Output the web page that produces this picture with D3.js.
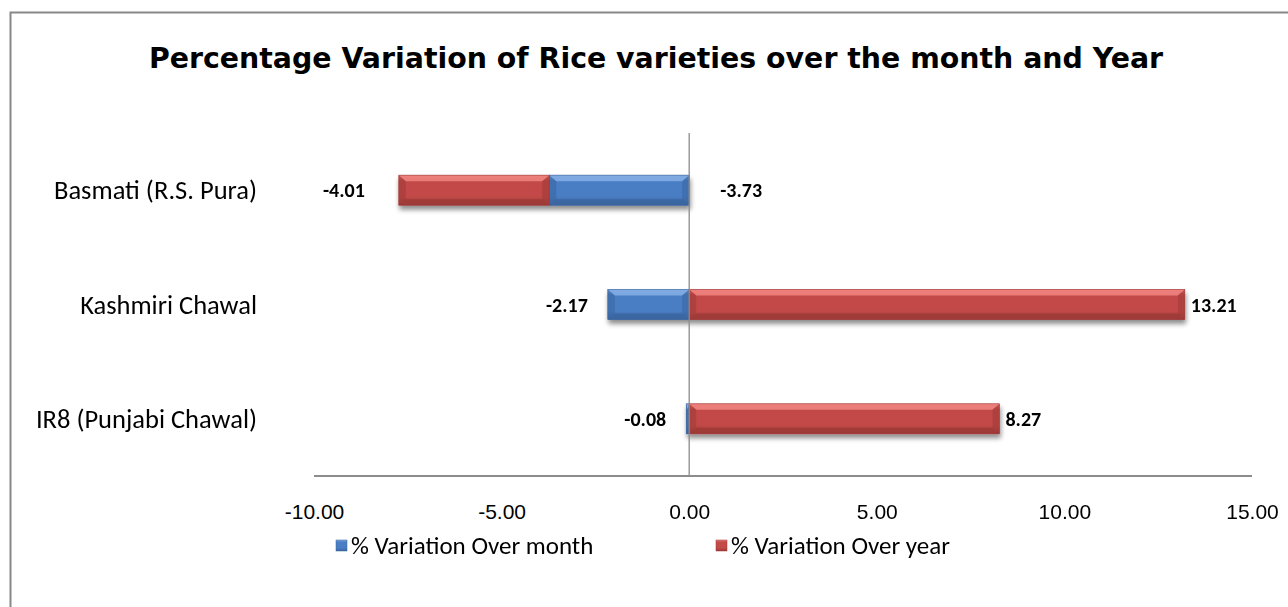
<!DOCTYPE html>
<html><head><meta charset="utf-8">
<script src="https://cdn.jsdelivr.net/npm/d3@7"></script>
<style>
html,body{margin:0;padding:0;background:#fff;}
</style></head>
<body>
<svg id="chart" width="1288" height="607"></svg>
<script>
const categories = ["Basmati (R.S. Pura)", "Kashmiri Chawal", "IR8 (Punjabi Chawal)"];
const monthValues = [-3.73, -2.17, -0.08];
const yearValues = [-4.01, 13.21, 8.27];
const seriesNames = ["% Variation Over month", "% Variation Over year"];
const tickValues = [-10, -5, 0, 5, 10, 15];
const title = "Percentage Variation of Rice varieties over the month and Year";

const svg = d3.select("#chart");
const W = 1288, H = 607;
const catFont = "Carlito, Lato, 'Open Sans', sans-serif";
const fmt = v => d3.format(".2f")(v).replace("\u2212", "-");

// frame
svg.append("rect").attr("x", 10.5).attr("y", 12.5).attr("width", W + 20).attr("height", H + 20)
  .attr("fill", "#fff").attr("stroke", "#888").attr("stroke-width", 2);

svg.append("text").attr("x", 656).attr("y", 68).attr("text-anchor", "middle")
  .style("font-family", "Tahoma, 'DejaVu Sans', sans-serif").style("font-weight", "bold")
  .style("font-size", "28.4px").attr("fill", "#000").text(title);

const x = d3.scaleLinear().domain([-10, 15]).range([314, 1252]);
const y = d3.scaleBand().domain(categories).range([133, 476]).paddingInner(0.737).paddingOuter(0.3685);

const defs = svg.append("defs");
const colors = [
  {base: "#4F81BD", top: "#80AAE2", mid: "#4A7EC4", bot: "#3A659F", name: "blue"},
  {base: "#C0504D", top: "#EC7E7B", mid: "#C24A47", bot: "#9E3A38", name: "red"}
];
colors.forEach(c => {
  const g = defs.append("linearGradient").attr("id", "g-" + c.name).attr("x1", 0).attr("x2", 0).attr("y1", 0).attr("y2", 1);
  g.append("stop").attr("offset", "0%").attr("stop-color", c.top);
  g.append("stop").attr("offset", "18%").attr("stop-color", c.mid);
  g.append("stop").attr("offset", "70%").attr("stop-color", c.mid);
  g.append("stop").attr("offset", "100%").attr("stop-color", c.bot);
});
const f = defs.append("filter").attr("id", "shadow").attr("x", "-5%").attr("y", "-30%").attr("width", "110%").attr("height", "180%");
f.append("feGaussianBlur").attr("in", "SourceAlpha").attr("stdDeviation", 2.5).attr("result", "b");
f.append("feOffset").attr("in", "b").attr("dx", 1).attr("dy", 4).attr("result", "o");
f.append("feComponentTransfer").attr("in", "o").attr("result", "s")
  .append("feFuncA").attr("type", "linear").attr("slope", 0.45);
const fm = f.append("feMerge");
fm.append("feMergeNode").attr("in", "s");
fm.append("feMergeNode").attr("in", "SourceGraphic");

// axis line
svg.append("line").attr("x1", x(-10)).attr("x2", x(15)).attr("y1", 476).attr("y2", 476)
  .attr("stroke", "#8c8c8c").attr("stroke-width", 2);

// stacked segments
const segs = [];
categories.forEach((c, i) => {
  const m = monthValues[i], yv = yearValues[i];
  let y0, y1;
  if (Math.sign(yv) === Math.sign(m)) { y0 = m; y1 = m + yv; } else { y0 = 0; y1 = yv; }
  segs.push({cat: c, s: 0, a: 0, b: m, v: m, i});
  segs.push({cat: c, s: 1, a: y0, b: y1, v: yv, i});
});

const bh = y.bandwidth();
const barG = svg.append("g").attr("filter", "url(#shadow)");
segs.forEach(d => {
  const c = colors[d.s];
  const x0 = Math.min(x(d.a), x(d.b)), x1 = Math.max(x(d.a), x(d.b));
  const w = x1 - x0, top = y(d.cat);
  const g = barG.append("g");
  g.append("rect").attr("x", x0).attr("y", top).attr("width", w).attr("height", bh)
    .attr("fill", "url(#g-" + c.name + ")");
  const bv = Math.min(7, w / 2);
  g.append("path").attr("d", `M${x0},${top}L${x1},${top}L${x1 - bv},${top + 6}L${x0 + bv},${top + 6}Z`)
    .attr("fill", c.top).attr("opacity", 0.95);
  g.append("path").attr("d", `M${x0},${top + bh}L${x1},${top + bh}L${x1 - bv},${top + bh - 6}L${x0 + bv},${top + bh - 6}Z`)
    .attr("fill", c.bot).attr("opacity", 0.85);
  g.append("path").attr("d", `M${x0},${top}L${x0 + bv},${top + 6}L${x0 + bv},${top + bh - 6}L${x0},${top + bh}Z`)
    .attr("fill", c.bot).attr("opacity", 0.55);
  g.append("path").attr("d", `M${x1},${top}L${x1 - bv},${top + 6}L${x1 - bv},${top + bh - 6}L${x1},${top + bh}Z`)
    .attr("fill", c.bot).attr("opacity", 0.55);
  g.append("rect").attr("x", x0).attr("y", top).attr("width", w).attr("height", bh)
    .attr("fill", "none").attr("stroke", c.bot).attr("stroke-width", 0.6);
});

// zero line
svg.append("line").attr("x1", x(0)).attr("x2", x(0)).attr("y1", 133).attr("y2", 476)
  .attr("stroke", "#8c8c8c").attr("stroke-width", 1.3);

// tick labels
const axis = d3.axisBottom(x).tickValues(tickValues).tickFormat(fmt).tickSize(0).tickPadding(0);
const ag = svg.append("g").attr("transform", "translate(0,476)").call(axis);
ag.select(".domain").remove();
ag.selectAll("text").attr("y", 43).attr("dy", 0)
  .style("font-family", "'Liberation Sans', Arial, sans-serif").style("font-size", "21px").attr("fill", "#000");

// category labels
svg.append("g").selectAll("text").data(categories).join("text")
  .attr("x", 257).attr("y", d => y(d) + bh / 2 + 9).attr("text-anchor", "end")
  .style("font-family", catFont).style("font-size", "26.5px").attr("fill", "#000").text(d => d);

// data labels
const lab = svg.append("g").style("font-family", catFont).style("font-weight", "bold").style("font-size", "20px");
segs.forEach(d => {
  const cy = y(d.cat) + bh / 2 + 7;
  let px, anchor;
  if (d.s === 1) {
    if (d.b < 0) { px = x(d.b) - 34; anchor = "end"; } else { px = x(d.b) + 6; anchor = "start"; }
  } else {
    const sameSide = Math.sign(yearValues[d.i]) === Math.sign(monthValues[d.i]);
    if (sameSide) { px = x(0) + 31; anchor = "start"; }
    else { px = x(d.b) - 20; anchor = "end"; }
  }
  lab.append("text").attr("x", px).attr("y", cy).attr("text-anchor", anchor).attr("fill", "#000")
    .text(fmt(d.v));
});

// legend
const leg = svg.append("g");
const legX = [336, 716];
seriesNames.forEach((n, i) => {
  const c = colors[i];
  leg.append("rect").attr("x", legX[i]).attr("y", 540).attr("width", 11).attr("height", 11)
    .attr("fill", "url(#g-" + c.name + ")").attr("stroke", c.bot).attr("stroke-width", 0.5);
  leg.append("text").attr("x", legX[i] + 15).attr("y", 554)
    .style("font-family", catFont).style("font-size", "25px").attr("fill", "#000").text(n);
});
</script>
</body></html>
